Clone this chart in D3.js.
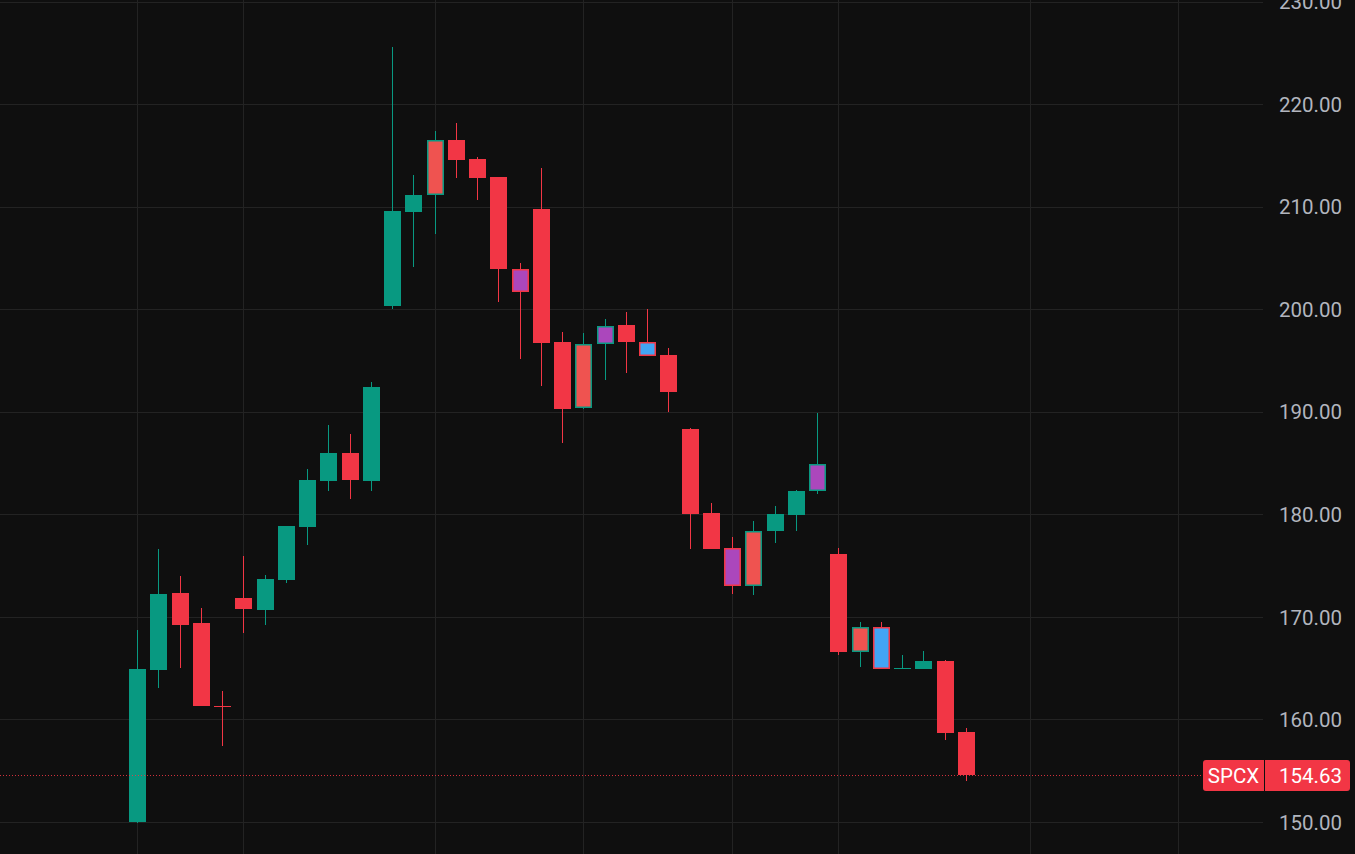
<!DOCTYPE html>
<html>
<head>
<meta charset="utf-8">
<script src="https://cdn.jsdelivr.net/npm/d3@7"></script>
<style>
html,body{margin:0;padding:0;background:#0f0f0f;overflow:hidden;}
svg{display:block;}
</style>
</head>
<body>
<svg id="chart" width="1355" height="854"></svg>
<script>
// ---- data ----
const symbol = "SPCX";
const lastPrice = 154.63;
const opens  = [150.0,164.8,172.3,169.4,161.35,171.8,170.7,173.6,178.75,183.2,186.0,183.2,200.3,209.5,211.1,216.5,214.6,212.9,203.9,209.8,196.8,190.4,196.6,198.5,196.8,195.5,188.3,180.1,176.7,173.0,178.35,179.9,182.3,176.1,166.6,169.05,165.0,164.9,165.7,158.75];
const highs  = [168.7,176.6,174.0,170.9,162.8,175.9,174.05,178.9,184.4,188.75,187.8,192.9,225.6,213.1,217.4,218.2,214.85,212.9,204.5,213.8,197.8,197.7,199.0,199.7,200.05,196.25,188.4,181.1,177.75,179.3,180.8,182.4,189.9,176.7,169.5,169.5,166.3,166.65,165.8,159.15];
const lows   = [149.9,163.1,165.0,161.3,157.4,168.4,169.2,173.3,177.0,182.3,181.5,182.3,200.0,204.1,207.3,212.8,210.6,200.7,195.1,192.5,187.0,190.3,193.1,193.8,195.4,189.95,176.6,176.6,172.2,172.1,177.2,178.4,182.0,166.3,165.1,164.95,165.0,164.9,158.0,154.0];
const closes = [164.9,172.2,169.2,161.3,161.2,170.8,173.7,178.9,183.3,186.0,183.3,192.4,209.6,211.1,216.5,214.5,212.8,203.9,201.7,196.7,190.3,196.6,198.4,196.8,195.4,191.9,180.0,176.6,173.0,178.4,180.0,182.3,184.95,166.6,169.05,164.95,165.02,165.7,158.7,154.63];
// bar signal category: n = normal, s = salmon, p = purple, b = blue
const signals = ["n","n","n","n","n","n","n","n","n","n","n","n","n","n","s","n","n","n","p","n","n","s","p","n","b","n","n","n","p","s","n","n","p","n","s","b","n","n","n","n"];
const priceTicks = [150,160,170,180,190,200,210,220,230];
const timeGridIdx = [0,5,14,21,28,33,42,49];

// ---- styles ----
const W = 1355, H = 854;
const plotRight = 1263;
const COLORS = {up:"#089981", down:"#F23645", s:"#EF5350", p:"#AB47BC", b:"#42A5F5"};
const font = "Roboto, 'Open Sans', sans-serif";

const svg = d3.select("#chart");
svg.append("rect").attr("width",W).attr("height",H).attr("fill","#0f0f0f");

const x = d3.scaleLinear().domain([0,49]).range([137,1178.25]);
const y = d3.scaleLinear().domain([150,230]).range([822,1.5]);
const bodyW = 17;

// grid
const grid = svg.append("g");
grid.selectAll("line.h").data(priceTicks).join("line")
  .attr("x1",0).attr("x2",plotRight)
  .attr("y1",d=>Math.round(y(d))+0.5).attr("y2",d=>Math.round(y(d))+0.5)
  .attr("stroke","#232323").attr("stroke-width",1);
grid.selectAll("line.v").data(timeGridIdx).join("line")
  .attr("x1",d=>Math.round(x(d))+0.5).attr("x2",d=>Math.round(x(d))+0.5)
  .attr("y1",0).attr("y2",H)
  .attr("stroke","#232323").attr("stroke-width",1);

// y axis (right)
const yAxis = d3.axisRight(y).tickValues(priceTicks).tickFormat(d3.format(".2f")).tickSize(0).tickPadding(0);
const ag = svg.append("g").attr("transform",`translate(1342,0)`).call(yAxis);
ag.select(".domain").remove();
ag.selectAll("text").attr("text-anchor","end").attr("x",0).attr("dy","0.35em")
  .attr("fill","#b2b5be").attr("font-family",font).attr("font-size",20.5);

// candles
const data = opens.map((o,i)=>({i,o,h:highs[i],l:lows[i],c:closes[i],s:signals[i]}));
const cg = svg.append("g").attr("shape-rendering","crispEdges");
const dirColor = d => d.c >= d.o ? COLORS.up : COLORS.down;
const cx = d => Math.round(x(d.i));
const bodyTop = d => Math.round(y(Math.max(d.o,d.c)));
const bodyH = d => Math.max(1, Math.round(y(Math.min(d.o,d.c))) - bodyTop(d));
cg.selectAll("rect.wick").data(data).join("rect")
  .attr("x",d=>cx(d)).attr("width",1)
  .attr("y",d=>Math.round(y(d.h))).attr("height",d=>Math.max(1,Math.round(y(d.l))-Math.round(y(d.h))))
  .attr("fill",dirColor);
cg.selectAll("rect.body").data(data).join("rect")
  .attr("x",d=>cx(d)-8).attr("y",bodyTop).attr("width",bodyW).attr("height",bodyH)
  .attr("fill",dirColor);
const ig = svg.append("g");
const inset = 1.5;
ig.selectAll("rect.inner").data(data.filter(d=>d.s!=="n")).join("rect")
  .attr("x",d=>cx(d)-8+inset).attr("y",d=>bodyTop(d)+inset).attr("width",bodyW-2*inset)
  .attr("height",d=>Math.max(0,bodyH(d)-2*inset))
  .attr("fill",d=>COLORS[d.s]);

// last price line
const py = Math.round(y(lastPrice))+0.5;
svg.append("line").attr("x1",0).attr("x2",1203).attr("y1",py).attr("y2",py)
  .attr("stroke",COLORS.down).attr("stroke-width",1).attr("stroke-dasharray","1,2").attr("opacity",0.85);

// label
const lg = svg.append("g");
lg.append("rect").attr("x",1203).attr("y",py-15.5).attr("width",147).attr("height",31)
  .attr("rx",3).attr("fill",COLORS.down);
lg.append("line").attr("x1",1264.5).attr("x2",1264.5).attr("y1",py-15.5).attr("y2",py+15.5)
  .attr("stroke","#0f0f0f").attr("stroke-width",1);
lg.append("text").attr("x",1233.5).attr("y",py).attr("dy","0.35em").attr("text-anchor","middle")
  .attr("fill","#fff").attr("font-family",font).attr("font-size",20.5).text(symbol);
lg.append("text").attr("x",1342).attr("y",py).attr("dy","0.35em").attr("text-anchor","end")
  .attr("fill","#fff").attr("font-family",font).attr("font-size",20.5).text(d3.format(".2f")(lastPrice));
</script>
</body>
</html>
